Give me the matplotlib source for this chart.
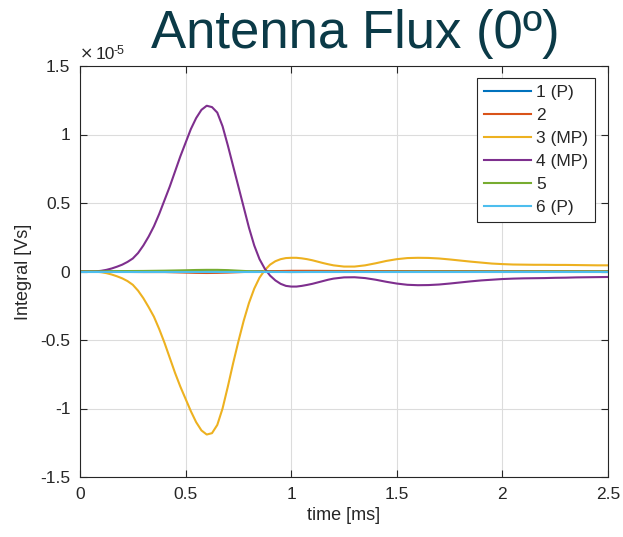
import numpy as np
import matplotlib
matplotlib.use("Agg")
import matplotlib.pyplot as plt
from matplotlib.ticker import FuncFormatter

plt.rcParams['font.family'] = ['Liberation Sans', 'DejaVu Sans']
plt.rcParams['axes.unicode_minus'] = False

# time in ms (fine sampling for the main pulses)
t = [0, 0.025, 0.05, 0.075, 0.1, 0.125, 0.15, 0.175, 0.2, 0.225, 0.25, 0.275,
     0.3, 0.325, 0.35, 0.375, 0.4, 0.425, 0.45, 0.475, 0.5, 0.525, 0.55, 0.575,
     0.6, 0.625, 0.65, 0.675, 0.7, 0.725, 0.75, 0.775, 0.8, 0.825, 0.85, 0.875,
     0.9, 0.925, 0.95, 0.975, 1.0, 1.025, 1.05, 1.075, 1.1, 1.125, 1.15, 1.175,
     1.2, 1.25, 1.3, 1.35, 1.4, 1.45, 1.5, 1.55, 1.6, 1.65, 1.7, 1.75, 1.8,
     1.85, 1.9, 1.95, 2.0, 2.05, 2.1, 2.15, 2.2, 2.25, 2.3, 2.35, 2.4, 2.45, 2.5]

# values in units of 1e-5 Vs
s3 = [0, 0, 0, -0.001, -0.005, -0.012, -0.022, -0.035, -0.05, -0.07, -0.097, -0.14,
      -0.195, -0.26, -0.33, -0.42, -0.52, -0.63, -0.74, -0.84, -0.93, -1.02, -1.10, -1.16,
      -1.19, -1.18, -1.12, -1.0, -0.84, -0.67, -0.51, -0.36, -0.23, -0.125, -0.045, 0.01,
      0.05, 0.075, 0.09, 0.098, 0.10, 0.10, 0.096, 0.09, 0.082, 0.072, 0.062, 0.053,
      0.045, 0.036, 0.036, 0.045, 0.06, 0.077, 0.09, 0.098, 0.10, 0.099, 0.095, 0.088, 0.08,
      0.072, 0.065, 0.058, 0.054, 0.051, 0.05, 0.049, 0.049, 0.048, 0.048, 0.047, 0.046, 0.045, 0.045]
s4 = [0, 0, 0, 0.001, 0.005, 0.012, 0.022, 0.035, 0.05, 0.07, 0.095, 0.135,
      0.19, 0.255, 0.33, 0.42, 0.52, 0.62, 0.73, 0.84, 0.94, 1.04, 1.12, 1.18,
      1.21, 1.20, 1.16, 1.06, 0.92, 0.77, 0.62, 0.47, 0.32, 0.19, 0.09, 0.02,
      -0.03, -0.065, -0.09, -0.105, -0.11, -0.11, -0.105, -0.098, -0.09, -0.08, -0.07, -0.06,
      -0.052, -0.043, -0.042, -0.048, -0.06, -0.075, -0.088, -0.097, -0.10, -0.099, -0.095, -0.088, -0.08,
      -0.072, -0.065, -0.06, -0.055, -0.052, -0.05, -0.049, -0.048, -0.046, -0.045, -0.043, -0.042, -0.041, -0.04]

# small channels, coarser time grid
t_small = [0, 0.1, 0.2, 0.3, 0.4, 0.5, 0.55, 0.6, 0.65, 0.7, 0.8, 0.9, 1.0,
           1.1, 1.2, 1.4, 1.6, 1.8, 2.0, 2.2, 2.5]
s1 = [0, 0, 0, 0, 0.003, 0.002, 0.001, 0, -0.001, -0.002, -0.001, 0.001, 0.002,
      0.001, 0.001, 0, 0, 0, 0, 0, 0]
s2 = [0, -0.001, -0.003, -0.004, -0.004, -0.008, -0.01, -0.011, -0.01, -0.008, -0.002, 0.002, 0.005,
      0.005, 0.004, 0.003, 0.002, 0.002, 0.001, 0.001, 0.001]
s5 = [0, 0.001, 0.003, 0.004, 0.006, 0.009, 0.011, 0.012, 0.012, 0.01, 0.002, -0.002, -0.004,
      -0.003, -0.002, -0.002, -0.001, -0.001, -0.001, 0, 0]
s6 = [0] * len(t_small)

labels = ['1 (P)', '2', '3 (MP)', '4 (MP)', '5', '6 (P)']
colors = ['#0072BD', '#D95319', '#EDB120', '#7E2F8E', '#77AC30', '#4DBEEE']
series = [(t_small, s1), (t_small, s2), (t, s3), (t, s4), (t_small, s5), (t_small, s6)]
scale = 1e-5

fig = plt.figure(figsize=(6.23, 5.37), dpi=100)
ax = fig.add_axes([80/623, 1-477/537, (608-80)/623, (477-66)/537])

for (tt, s), c, lab in zip(series, colors, labels):
    ax.plot(tt, np.array(s) * scale, color=c, lw=1.5, label=lab)

ax.set_xlim(0, 2.5)
ax.set_ylim(-1.5e-5, 1.5e-5)
ax.set_xticks([0, 0.5, 1, 1.5, 2, 2.5])
ax.set_yticks(np.arange(-1.5, 1.51, 0.5) * scale)
ax.xaxis.set_major_formatter(FuncFormatter(lambda v, p: '%g' % v))
ax.yaxis.set_major_formatter(FuncFormatter(lambda v, p: '%g' % round(v / scale, 2)))

ax.grid(True, color='#dcdcdc', lw=0.8)
ax.set_axisbelow(True)
ax.tick_params(direction='in', length=5, top=True, right=True,
               labelsize=12.5, colors='#262626', pad=7)
for sp in ax.spines.values():
    sp.set_color('#262626')
    sp.set_linewidth(0.8)

ax.set_xlabel('time [ms]', fontsize=13, color='#262626', labelpad=4)
ax.set_ylabel('Integral [Vs]', fontsize=13, color='#262626', labelpad=6)

# exponent label, matlab style
fig.text(80/623, 1-59/537, '×', fontsize=11.5, color='#262626', family='DejaVu Sans',
         ha='left', va='baseline')
fig.text(95.5/623, 1-59/537, '10', fontsize=12.5, color='#262626',
         ha='left', va='baseline')
fig.text(114/623, 1-54/537, '-5', fontsize=9, color='#262626',
         ha='left', va='baseline')
fig.text(355/623, 1-34/537, 'Antenna Flux (0º)', fontsize=38, color='#0B3A47',
         ha='center', va='center')

leg = ax.legend(loc='upper right', bbox_to_anchor=(595/623, 1-78/537),
                bbox_transform=fig.transFigure, borderaxespad=0,
                fontsize=12.5, handlelength=2.7, handletextpad=0.3,
                labelspacing=0.45, fancybox=False, framealpha=1,
                edgecolor='#262626', borderpad=0.4)
leg.get_frame().set_linewidth(0.8)
for txt in leg.get_texts():
    txt.set_color('#262626')

fig.savefig('out.png', dpi=100)
